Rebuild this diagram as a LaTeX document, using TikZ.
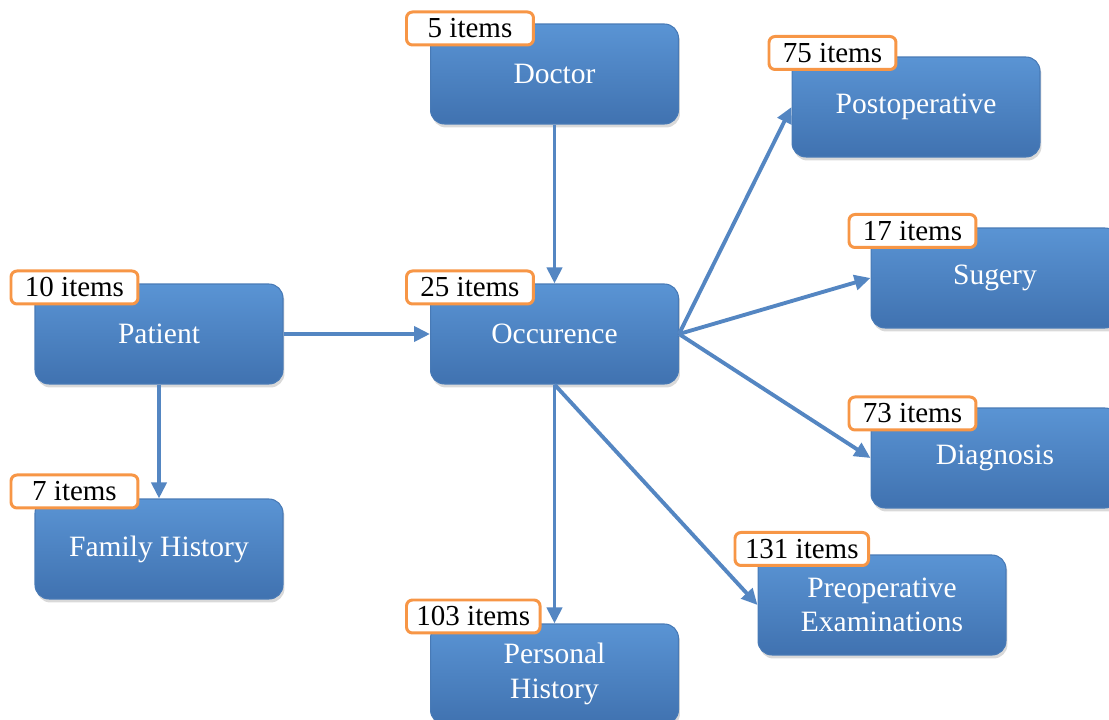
\documentclass[tikz,border=0pt]{standalone}
\usepackage{fontspec}
\setmainfont{Liberation Serif}
\usetikzlibrary{arrows.meta,shadows}
\definecolor{boxtop}{RGB}{90,148,212}
\definecolor{boxbot}{RGB}{64,114,176}
\definecolor{boxline}{RGB}{72,122,182}
\definecolor{tagline}{RGB}{247,150,70}
\definecolor{arrowblue}{RGB}{84,134,194}

\begin{document}
\begin{tikzpicture}[x=0.02cm,y=-0.02cm,
    box/.style={shape=rectangle,rounded corners=0.28cm,draw=boxline,line width=0.6pt,
        top color=boxtop,bottom color=boxbot,minimum width=4.96cm,minimum height=2cm,
        inner sep=0pt,align=center,text=white,font=\fontsize{16.8}{19.5}\selectfont,
        drop shadow={opacity=0.3,shadow xshift=0.03cm,shadow yshift=-0.07cm}},
    tag/.style={shape=rectangle,rounded corners=0.12cm,draw=tagline,line width=1.7pt,
        fill=white,minimum width=2.54cm,minimum height=0.66cm,inner xsep=0.2cm,
        inner ysep=0pt,anchor=west,font=\fontsize{16.5}{19}\selectfont},
    link/.style={draw=arrowblue,line width=2.2pt,-{Triangle[length=0.32cm,width=0.3cm]}}]
        \useasboundingbox (0,0) rectangle (1109,720);

        \node[box] (A) at (554.5,74) {Doctor};
        \node[box] (B) at (159,334) {Patient};
        \node[box] (C) at (554.5,334) {Occurence};
        \node[box] (D) at (159,549) {Family History};
        \node[box] (E) at (554.5,674) {Personal\\History};
        \node[box] (F) at (916,107) {Postoperative};
        \node[box] (G) at (995,278) {Sugery};
        \node[box] (H) at (995,458) {Diagnosis};
        \node[box] (I) at (882,605) {Preoperative\\Examinations};

        \node[tag] (a) at ([xshift=-0.5cm,yshift=-0.1cm]A.north west) {5 items};
        \node[tag] (b) at ([xshift=-0.5cm,yshift=-0.08cm]B.north west) {10 items};
        \node[tag] (c) at ([xshift=-0.5cm,yshift=-0.08cm]C.north west) {25 items};
        \node[tag] (d) at ([xshift=-0.5cm,yshift=0.14cm]D.north west) {7 items};
        \node[tag] (e) at ([xshift=-0.5cm,yshift=0.14cm]E.north west) {103 items};
        \node[tag] (f) at ([xshift=-0.48cm,yshift=0.07cm]F.north west) {75 items};
        \node[tag] (g) at ([xshift=-0.46cm,yshift=-0.07cm]G.north west) {17 items};
        \node[tag] (h) at ([xshift=-0.46cm,yshift=-0.12cm]H.north west) {73 items};
        \node[tag] (i) at ([xshift=-0.48cm,yshift=0.11cm]I.north west) {131 items};

        \path (A) edge [link] (C);
        \path (B) edge [link] (C);
        \path (B) edge [link] (D);

        \path (C.south) edge [link] (E);
        \path (C.east) edge [link] (F.west);
        \path (C.east) edge [link] (G.west);
        \path (C.east) edge [link] (H.west);
        \path (C.south) edge [link] (I.west);
    \end{tikzpicture}
\end{document}
